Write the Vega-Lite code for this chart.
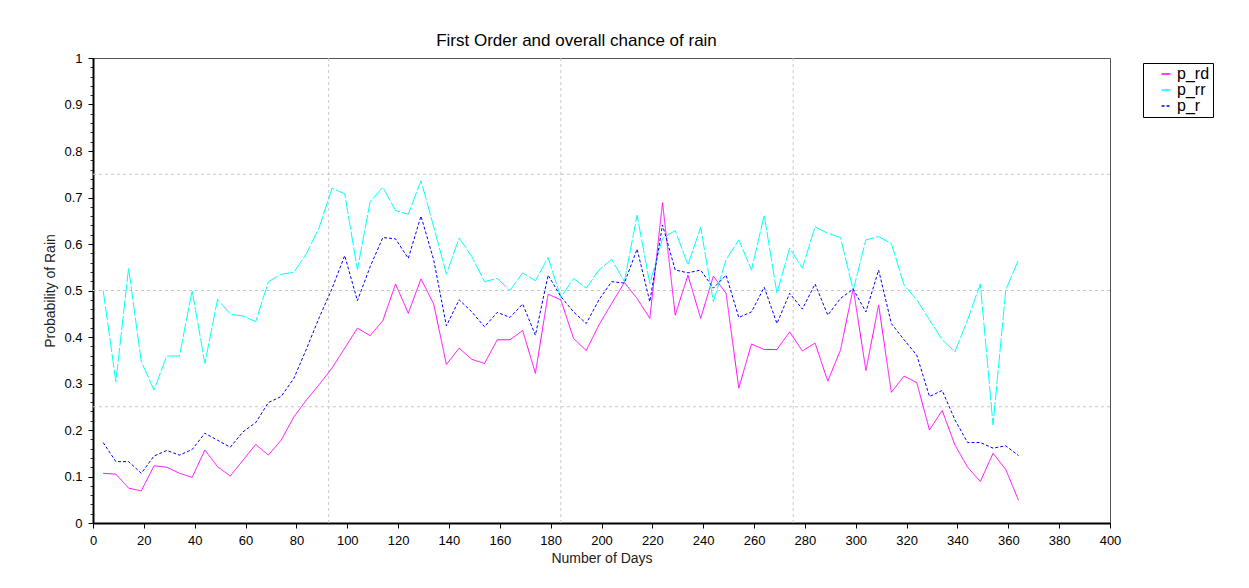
{
  "$schema": "https://vega.github.io/schema/vega-lite/v6.json",
  "width": 1017,
  "height": 465,
  "autosize": "none",
  "padding": {"left": 93, "top": 58, "right": 139, "bottom": 65},
  "background": "white",
  "config": {
    "font": "Liberation Sans",
    "view": {"stroke": "#555555", "strokeWidth": 1},
    "axis": {
      "domainColor": "black",
      "domainWidth": 2,
      "tickColor": "black",
      "tickSize": 5,
      "labelColor": "black",
      "labelFont": "Liberation Sans",
      "labelFontSize": 13,
      "titleFont": "Liberation Sans",
      "titleFontSize": 14,
      "titleFontWeight": "normal",
      "titleColor": "#222222",
      "grid": false
    }
  },
  "title": {
    "text": "First Order and overall chance of rain",
    "fontSize": 17,
    "fontWeight": "normal",
    "color": "black",
    "font": "Liberation Sans",
    "dx": -25,
    "offset": 2
  },
  "datasets": {
    "series": [
      {"day": 4, "p_rd": 0.107, "p_rr": 0.5, "p_r": 0.173},
      {"day": 9, "p_rd": 0.105, "p_rr": 0.304, "p_r": 0.132},
      {"day": 14, "p_rd": 0.075, "p_rr": 0.548, "p_r": 0.132},
      {"day": 19, "p_rd": 0.069, "p_rr": 0.347, "p_r": 0.107},
      {"day": 24, "p_rd": 0.123, "p_rr": 0.286, "p_r": 0.144},
      {"day": 29, "p_rd": 0.12, "p_rr": 0.359, "p_r": 0.156},
      {"day": 34, "p_rd": 0.107, "p_rr": 0.359, "p_r": 0.146},
      {"day": 39, "p_rd": 0.098, "p_rr": 0.5, "p_r": 0.158},
      {"day": 44, "p_rd": 0.157, "p_rr": 0.343, "p_r": 0.193},
      {"day": 49, "p_rd": 0.121, "p_rr": 0.481, "p_r": 0.178},
      {"day": 54, "p_rd": 0.101, "p_rr": 0.449, "p_r": 0.163},
      {"day": 59, "p_rd": 0.135, "p_rr": 0.445, "p_r": 0.196},
      {"day": 64, "p_rd": 0.169, "p_rr": 0.433, "p_r": 0.216},
      {"day": 69, "p_rd": 0.146, "p_rr": 0.519, "p_r": 0.259},
      {"day": 74, "p_rd": 0.178, "p_rr": 0.535, "p_r": 0.272},
      {"day": 79, "p_rd": 0.228, "p_rr": 0.539, "p_r": 0.311},
      {"day": 84, "p_rd": 0.265, "p_rr": 0.58, "p_r": 0.375},
      {"day": 89, "p_rd": 0.298, "p_rr": 0.636, "p_r": 0.442},
      {"day": 94, "p_rd": 0.333, "p_rr": 0.72, "p_r": 0.504},
      {"day": 99, "p_rd": 0.376, "p_rr": 0.708, "p_r": 0.575},
      {"day": 104, "p_rd": 0.419, "p_rr": 0.545, "p_r": 0.478},
      {"day": 109, "p_rd": 0.403, "p_rr": 0.691, "p_r": 0.551},
      {"day": 114, "p_rd": 0.435, "p_rr": 0.722, "p_r": 0.614},
      {"day": 119, "p_rd": 0.514, "p_rr": 0.672, "p_r": 0.611},
      {"day": 124, "p_rd": 0.451, "p_rr": 0.664, "p_r": 0.569},
      {"day": 129, "p_rd": 0.525, "p_rr": 0.736, "p_r": 0.66},
      {"day": 134, "p_rd": 0.471, "p_rr": 0.637, "p_r": 0.566},
      {"day": 139, "p_rd": 0.341, "p_rr": 0.535, "p_r": 0.424},
      {"day": 144, "p_rd": 0.376, "p_rr": 0.613, "p_r": 0.48},
      {"day": 149, "p_rd": 0.352, "p_rr": 0.573, "p_r": 0.454},
      {"day": 154, "p_rd": 0.343, "p_rr": 0.519, "p_r": 0.422},
      {"day": 159, "p_rd": 0.394, "p_rr": 0.526, "p_r": 0.453},
      {"day": 164, "p_rd": 0.394, "p_rr": 0.5, "p_r": 0.442},
      {"day": 169, "p_rd": 0.414, "p_rr": 0.538, "p_r": 0.471},
      {"day": 174, "p_rd": 0.322, "p_rr": 0.521, "p_r": 0.404},
      {"day": 179, "p_rd": 0.492, "p_rr": 0.571, "p_r": 0.533},
      {"day": 184, "p_rd": 0.48, "p_rr": 0.485, "p_r": 0.487},
      {"day": 189, "p_rd": 0.397, "p_rr": 0.526, "p_r": 0.454},
      {"day": 194, "p_rd": 0.371, "p_rr": 0.505, "p_r": 0.429},
      {"day": 199, "p_rd": 0.426, "p_rr": 0.544, "p_r": 0.48},
      {"day": 204, "p_rd": 0.472, "p_rr": 0.567, "p_r": 0.519},
      {"day": 209, "p_rd": 0.517, "p_rr": 0.519, "p_r": 0.516},
      {"day": 214, "p_rd": 0.483, "p_rr": 0.662, "p_r": 0.589},
      {"day": 219, "p_rd": 0.44, "p_rr": 0.515, "p_r": 0.476},
      {"day": 224, "p_rd": 0.689, "p_rr": 0.612, "p_r": 0.641},
      {"day": 229, "p_rd": 0.447, "p_rr": 0.629, "p_r": 0.544},
      {"day": 234, "p_rd": 0.533, "p_rr": 0.555, "p_r": 0.538},
      {"day": 239, "p_rd": 0.44, "p_rr": 0.636, "p_r": 0.544},
      {"day": 244, "p_rd": 0.531, "p_rr": 0.476, "p_r": 0.505},
      {"day": 249, "p_rd": 0.494, "p_rr": 0.566, "p_r": 0.533},
      {"day": 254, "p_rd": 0.29, "p_rr": 0.609, "p_r": 0.442},
      {"day": 259, "p_rd": 0.385, "p_rr": 0.544, "p_r": 0.454},
      {"day": 264, "p_rd": 0.373, "p_rr": 0.662, "p_r": 0.507},
      {"day": 269, "p_rd": 0.373, "p_rr": 0.494, "p_r": 0.429},
      {"day": 274, "p_rd": 0.411, "p_rr": 0.591, "p_r": 0.494},
      {"day": 279, "p_rd": 0.37, "p_rr": 0.548, "p_r": 0.46},
      {"day": 284, "p_rd": 0.387, "p_rr": 0.637, "p_r": 0.514},
      {"day": 289, "p_rd": 0.305, "p_rr": 0.623, "p_r": 0.447},
      {"day": 294, "p_rd": 0.372, "p_rr": 0.614, "p_r": 0.483},
      {"day": 299, "p_rd": 0.505, "p_rr": 0.501, "p_r": 0.503},
      {"day": 304, "p_rd": 0.328, "p_rr": 0.609, "p_r": 0.454},
      {"day": 309, "p_rd": 0.469, "p_rr": 0.616, "p_r": 0.544},
      {"day": 314, "p_rd": 0.281, "p_rr": 0.601, "p_r": 0.429},
      {"day": 319, "p_rd": 0.316, "p_rr": 0.512, "p_r": 0.394},
      {"day": 324, "p_rd": 0.302, "p_rr": 0.48, "p_r": 0.361},
      {"day": 329, "p_rd": 0.2, "p_rr": 0.437, "p_r": 0.272},
      {"day": 334, "p_rd": 0.242, "p_rr": 0.394, "p_r": 0.285},
      {"day": 339, "p_rd": 0.168, "p_rr": 0.368, "p_r": 0.222},
      {"day": 344, "p_rd": 0.12, "p_rr": 0.437, "p_r": 0.173},
      {"day": 349, "p_rd": 0.089, "p_rr": 0.514, "p_r": 0.173},
      {"day": 354, "p_rd": 0.15, "p_rr": 0.211, "p_r": 0.161},
      {"day": 359, "p_rd": 0.115, "p_rr": 0.501, "p_r": 0.166},
      {"day": 364, "p_rd": 0.049, "p_rr": 0.566, "p_r": 0.145}
    ],
    "hgrid": [{"y": 0.25}, {"y": 0.5}, {"y": 0.75}],
    "vgrid": [{"x": 92.7}, {"x": 184}, {"x": 275.4}]
  },
  "resolve": {"axis": {"y": "independent"}},
  "layer": [
    {
      "data": {"name": "hgrid"},
      "mark": {"type": "rule", "strokeDash": [3, 3], "color": "#c8c8c8", "strokeWidth": 1},
      "encoding": {
        "y": {
          "field": "y",
          "type": "quantitative",
          "scale": {"domain": [0, 1], "nice": false, "zero": false},
          "axis": {
            "orient": "left",
            "values": [0, 0.02, 0.04, 0.06, 0.08, 0.1, 0.12, 0.14, 0.16, 0.18, 0.2, 0.22, 0.24, 0.26, 0.28, 0.3, 0.32, 0.34, 0.36, 0.38, 0.4, 0.42, 0.44, 0.46, 0.48, 0.5, 0.52, 0.54, 0.56, 0.58, 0.6, 0.62, 0.64, 0.66, 0.68, 0.7, 0.72, 0.74, 0.76, 0.78, 0.8, 0.82, 0.84, 0.86, 0.88, 0.9, 0.92, 0.94, 0.96, 0.98, 1],
            "labels": false,
            "domain": false,
            "tickSize": 3,
            "tickColor": "#333333",
            "title": null
          }
        }
      }
    },
    {
      "data": {"name": "vgrid"},
      "mark": {"type": "rule", "strokeDash": [3, 3], "color": "#c8c8c8", "strokeWidth": 1},
      "encoding": {
        "x": {"field": "x", "type": "quantitative", "scale": {"domain": [0, 400], "nice": false, "zero": false}}
      }
    },
    {
      "data": {"name": "series"},
      "transform": [{"fold": ["p_rd", "p_rr", "p_r"], "as": ["series", "p"]}],
      "mark": {"type": "line", "strokeWidth": 1, "interpolate": "linear"},
      "encoding": {
        "x": {
          "field": "day",
          "type": "quantitative",
          "scale": {"domain": [0, 400], "nice": false, "zero": false},
          "axis": {
            "title": "Number of Days",
            "values": [0, 20, 40, 60, 80, 100, 120, 140, 160, 180, 200, 220, 240, 260, 280, 300, 320, 340, 360, 380, 400],
            "labelPadding": 6,
            "titlePadding": 4,
            "labelFlush": false
          }
        },
        "y": {
          "field": "p",
          "type": "quantitative",
          "scale": {"domain": [0, 1], "nice": false, "zero": false},
          "axis": {
            "orient": "left",
            "title": "Probability of Rain",
            "values": [0, 0.1, 0.2, 0.3, 0.4, 0.5, 0.6, 0.7, 0.8, 0.9, 1],
            "format": "~g",
            "labelPadding": 6,
            "titlePadding": 6,
            "labelFlush": false
          }
        },
        "color": {
          "field": "series",
          "type": "nominal",
          "scale": {"domain": ["p_rd", "p_rr", "p_r"], "range": ["#FF00FF", "#00FFFF", "#0000FF"]},
          "legend": {
            "orient": "none",
            "legendX": 1050,
            "legendY": 5,
            "title": null,
            "strokeColor": "#000000",
            "fillColor": "white",
            "padding": 3,
            "labelFontSize": 16,
            "labelColor": "black",
            "symbolType": "stroke",
            "symbolSize": 80,
            "symbolStrokeWidth": 1.5,
            "symbolOffset": 12,
            "rowPadding": 0,
            "labelOffset": 3
          }
        },
        "strokeDash": {
          "field": "series",
          "type": "nominal",
          "scale": {"domain": ["p_rd", "p_rr", "p_r"], "range": [[1, 0], [14, 2], [3, 2]]},
          "legend": {
            "orient": "none",
            "legendX": 1050,
            "legendY": 5,
            "title": null
          }
        }
      }
    }
  ]
}
